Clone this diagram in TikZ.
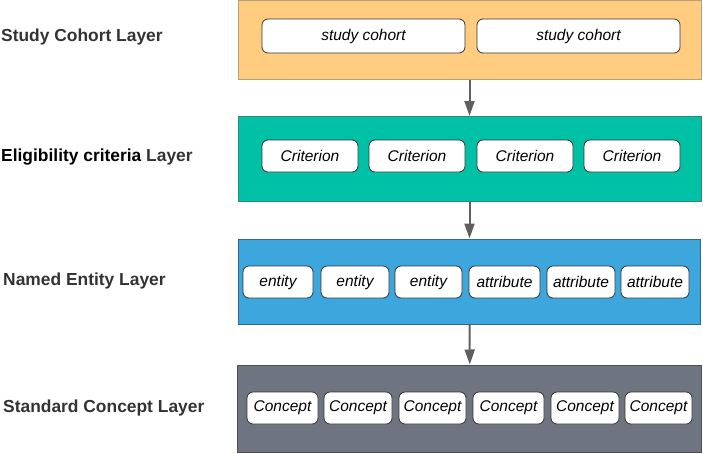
\documentclass[tikz,border=0pt]{standalone}
\usepackage{fontspec}
\setmainfont{Liberation Sans}
\usetikzlibrary{arrows.meta}
\definecolor{orangefill}{HTML}{FFCC80}
\definecolor{orangeedge}{HTML}{B59E7C}
\definecolor{tealfill}{HTML}{00C0A6}
\definecolor{tealedge}{HTML}{2E8A7C}
\definecolor{bluefill}{HTML}{3CA6DD}
\definecolor{blueedge}{HTML}{2F6A8C}
\definecolor{grayfill}{HTML}{6E7581}
\definecolor{grayedge}{HTML}{4A4F57}
\definecolor{labelgray}{HTML}{333333}
\definecolor{arrowgray}{HTML}{5F5F5F}
\tikzset{
  layerbox/.style={draw, line width=1pt, rectangle, inner sep=0pt},
  itembox/.style={draw=black!80, fill=white, line width=0.8pt, rounded corners=6pt, inner sep=0pt, font=\fontsize{15.5}{18}\selectfont\itshape},
  layerlabel/.style={anchor=base west, inner sep=0pt, font=\fontsize{17.4}{20}\selectfont\bfseries, text=labelgray},
  flowarrow/.style={draw=arrowgray, line width=2pt, -{Triangle[length=15pt,width=10pt]}, shorten >=0pt}
}
\newcommand{\itemat}[6]{% name, x1, x2, y1, y2, text
  \node[itembox, minimum width={#3-#2}, minimum height={#5-#4}] (#1) at ({(#2+#3)/2},{(#4+#5)/2}) {#6};}
\begin{document}
\begin{tikzpicture}[x=1pt,y=-1pt]
\useasboundingbox (0,0) rectangle (703,453);
% layers
\node[layerbox, fill=orangefill, draw=orangeedge, minimum width=463pt, minimum height=79pt] (L1) at (469.5,39.5) {};
\node[layerbox, fill=tealfill, draw=tealedge, minimum width=463pt, minimum height=85pt] (L2) at (469.5,159) {};
\node[layerbox, fill=bluefill, draw=blueedge, minimum width=462pt, minimum height=85pt] (L3) at (469.5,281.5) {};
\node[layerbox, fill=grayfill, draw=grayedge, minimum width=464pt, minimum height=87pt] (L4) at (469.8,408.5) {};
% labels
\node[layerlabel] (T1) at (1,41) {Study Cohort Layer};
\node[layerlabel] (T2) at (1,161.5) {\textcolor{black}{Eligibility criteria} Layer};
\node[layerlabel] (T3) at (3,285) {Named Entity Layer};
\node[layerlabel] (T4) at (3,412) {Standard Concept Layer};
% layer 1 items
\itemat{s1}{262}{465}{19}{53}{study cohort}
\itemat{s2}{477}{680}{19}{53}{study cohort}
% layer 2 items
\itemat{c1}{262}{358}{140}{172}{Criterion}
\itemat{c2}{369}{465}{140}{172}{Criterion}
\itemat{c3}{477}{573}{140}{172}{Criterion}
\itemat{c4}{584}{680}{140}{172}{Criterion}
% layer 3 items
\itemat{e1}{243}{313}{266}{298}{entity}
\itemat{e2}{321}{389}{266}{298}{entity}
\itemat{e3}{395}{462}{266}{298}{entity}
\itemat{a1}{469}{540}{266}{298}{attribute}
\itemat{a2}{547}{615}{266}{298}{attribute}
\itemat{a3}{621}{689}{266}{298}{attribute}
% layer 4 items
\itemat{k1}{247}{318}{392}{424}{Concept}
\itemat{k2}{324}{392}{392}{424}{Concept}
\itemat{k3}{399}{466}{392}{424}{Concept}
\itemat{k4}{473}{544}{392}{424}{Concept}
\itemat{k5}{551}{619}{392}{424}{Concept}
\itemat{k6}{625}{692}{392}{424}{Concept}
% arrows
\draw[flowarrow] (L1.south) -- (L2.north);
\draw[flowarrow] (L2.south) -- (L3.north);
\draw[flowarrow] (L3.south) -- (L4.north);
\end{tikzpicture}
\end{document}
